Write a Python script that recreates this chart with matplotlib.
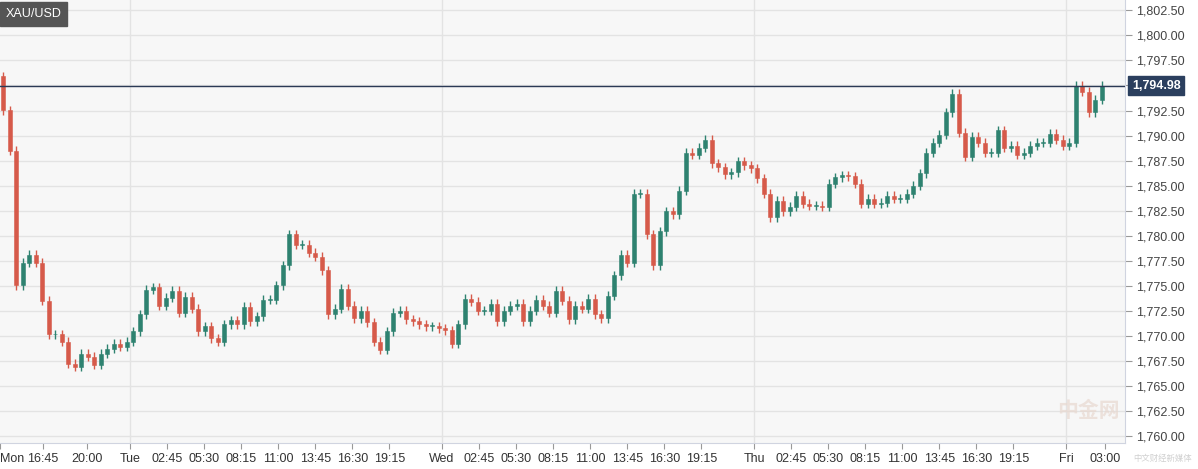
import matplotlib
matplotlib.use("Agg")
import matplotlib.pyplot as plt
from matplotlib.ticker import FuncFormatter, MultipleLocator

plt.rcParams['font.family'] = ['Liberation Sans', 'DejaVu Sans']

first_open = 1795.90
closes = [
    1792.54, 1788.48, 1775.06, 1777.30, 1778.11, 1777.30, 1773.53, 1770.18, 1770.18, 1769.47,
    1767.23, 1766.93, 1768.25, 1767.95, 1767.13, 1768.25, 1768.76, 1769.27, 1768.96, 1769.47,
    1770.49, 1772.21, 1774.65, 1774.86, 1773.03, 1773.84, 1774.55, 1772.32, 1773.94, 1772.72,
    1770.49, 1771.00, 1769.77, 1769.47, 1771.20, 1771.61, 1771.20, 1772.93, 1771.50, 1772.01,
    1773.64, 1773.64, 1775.06, 1777.09, 1780.14, 1779.13, 1779.13, 1778.31, 1777.91, 1776.58,
    1772.21, 1772.72, 1774.75, 1773.03, 1771.81, 1772.52, 1771.40, 1769.47, 1768.66, 1770.49,
    1772.32, 1772.52, 1771.71, 1771.50, 1771.20, 1771.00, 1771.00, 1770.79, 1770.59, 1769.27,
    1771.20, 1773.74, 1773.43, 1772.52, 1772.52, 1773.23, 1771.50, 1772.52, 1773.03, 1773.23,
    1771.50, 1772.52, 1773.64, 1773.03, 1772.32, 1774.55, 1773.53, 1771.71, 1773.03, 1772.72,
    1773.74, 1772.21, 1771.81, 1774.04, 1776.08, 1778.11, 1777.30, 1784.21, 1784.21, 1780.14,
    1777.09, 1780.45, 1782.48, 1782.17, 1784.51, 1788.27, 1788.07, 1788.78, 1789.59, 1787.25,
    1786.85, 1786.14, 1786.34, 1787.46, 1787.05, 1786.75, 1785.73, 1784.21, 1781.87, 1783.50,
    1782.48, 1782.89, 1784.00, 1783.19, 1782.99, 1782.99, 1782.89, 1785.22, 1785.83, 1786.04,
    1785.93, 1785.22, 1783.19, 1783.70, 1783.19, 1783.29, 1784.00, 1783.70, 1783.70, 1784.21,
    1785.02, 1786.24, 1788.27, 1789.29, 1790.10, 1792.34, 1794.17, 1790.30, 1787.87, 1789.90,
    1789.29, 1788.27, 1788.27, 1790.51, 1788.78, 1788.98, 1788.07, 1788.27, 1788.98, 1789.29,
    1789.29, 1790.20, 1789.59, 1788.98, 1789.29, 1794.98, 1794.37, 1792.34, 1793.56, 1794.98,
]
last_price = 1794.98
wick = 0.45

# hours since the first candle for the x tick labels
tick_hours = [0, 3.3, 6.7, 10, 12.85, 15.7, 18.55, 21.4, 24.25, 27.1, 29.95,
              34, 36.85, 39.7, 42.55, 45.4, 48.25, 51.1, 53.95,
              58, 60.85, 63.7, 66.55, 69.4, 72.25, 75.1, 77.95, 82, 85]
tick_labels = ["Mon", "16:45", "20:00", "Tue", "02:45", "05:30", "08:15", "11:00", "13:45", "16:30", "19:15",
               "Wed", "02:45", "05:30", "08:15", "11:00", "13:45", "16:30", "19:15",
               "Thu", "02:45", "05:30", "08:15", "11:00", "13:45", "16:30", "19:15", "Fri", "03:00"]
day_hours = [10, 34, 58, 82]

green = "#2e8270"
red = "#d65a4a"

fig = plt.figure(figsize=(11.98, 4.69), dpi=100)
fig.patch.set_facecolor("white")
ax = fig.add_axes([0, 26 / 469, 1125 / 1198, 1 - 26 / 469])
ax.set_facecolor("#f7f7f7")

opens = [first_open] + closes[:-1]
for i, (o, c) in enumerate(zip(opens, closes)):
    col = green if c >= o else red
    hi = max(o, c) + wick
    lo = min(o, c) - wick
    ax.vlines(i, lo, hi, color=col, linewidth=1.0, zorder=3)
    h = abs(c - o)
    if h < 0.08:
        h = 0.08
    ax.bar(i, h, bottom=min(o, c), width=0.62, color=col, edgecolor=col, linewidth=0.4, zorder=4)

ax.set_xlim(-0.5, 1125 / 6.5 - 0.5)
ax.set_ylim(1759.35, 1803.52)
ax.yaxis.set_major_locator(MultipleLocator(2.5))
ax.yaxis.tick_right()
# the last-price box covers the label nearest to it
ax.yaxis.set_major_formatter(FuncFormatter(
    lambda v, p: "" if abs(v - last_price) < 1.0 else f"{v:,.2f}"))
ax.grid(axis="y", color="#e3e3e3", linewidth=1)
for d in day_hours:
    ax.axvline(d * 2 - 0.5, color="#e3e3e3", linewidth=1, zorder=1)
ax.set_xticks([h * 2 - 0.5 for h in tick_hours])
ax.set_xticklabels(tick_labels)
ax.tick_params(axis="x", colors="#999999", labelcolor="#333333", labelsize=9, length=4, pad=3)
ax.tick_params(axis="y", colors="#999999", labelcolor="#444444", labelsize=9, length=5, pad=3)
ax.get_xticklabels()[0].set_horizontalalignment("left")
for s in ["top", "left"]:
    ax.spines[s].set_visible(False)
ax.spines["right"].set_color("#d0d4e0")
ax.spines["bottom"].set_color("#d0d4e0")

ax.axhline(last_price, color="#2b3a55", linewidth=1, zorder=5)
ax.annotate(f"{last_price:,.2f}", xy=(1.0, last_price), xycoords=("axes fraction", "data"),
            xytext=(5, 0), textcoords="offset points", va="center", ha="left",
            fontsize=9, fontweight="bold", color="white",
            bbox=dict(boxstyle="square,pad=0.3", fc="#2b3f5e", ec="#2b3f5e"), zorder=7)

ax.text(0.005, 0.982, "XAU/USD", transform=ax.transAxes, va="top", ha="left", fontsize=9,
        color="white", bbox=dict(boxstyle="square,pad=0.45", fc="#555555", ec="#555555"), zorder=6)

fig.text(0.935, 0.125, "中金网", ha="right", va="center", fontsize=15, color="#e8d8d0",
         family=["Noto Sans CJK SC", "DejaVu Sans"], fontweight="bold", alpha=0.7, zorder=0)
fig.text(0.995, 0.022, "中文财经新媒体", ha="right", va="center", fontsize=6, color="#d0d0d0",
         family=["Noto Sans CJK SC", "DejaVu Sans"], zorder=0)

fig.savefig("out.png", dpi=100)
